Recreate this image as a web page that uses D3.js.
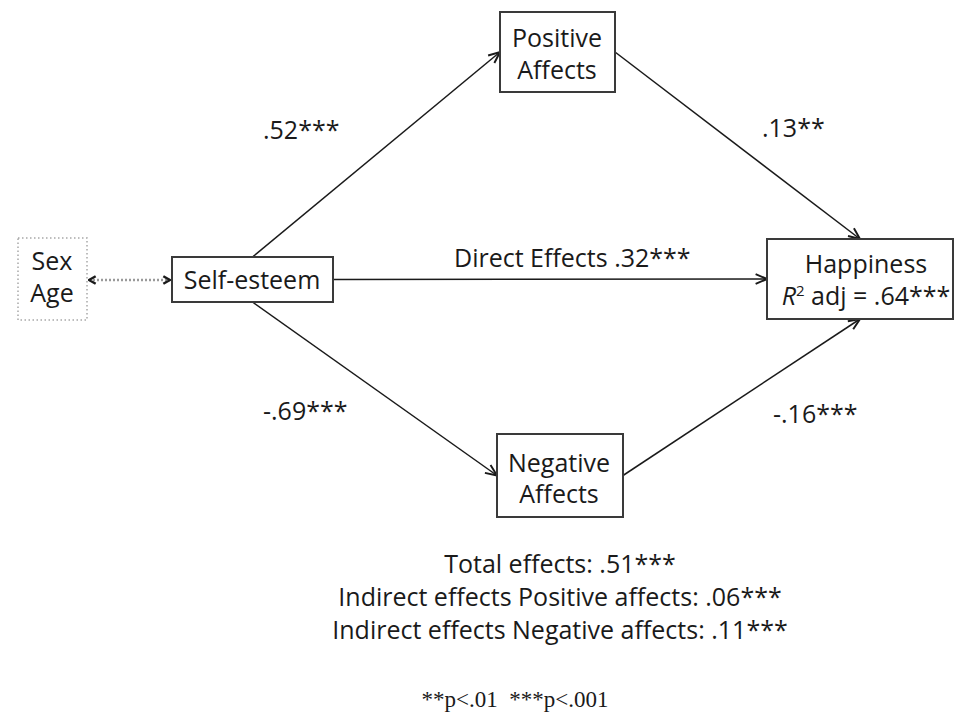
<!DOCTYPE html>
<html>
<head>
<meta charset="utf-8">
<script src="https://d3js.org/d3.v7.min.js"></script>
<style>
  body { margin: 0; background: #fff; }
  svg text { font-family: "Open Sans", sans-serif; fill: #1a1a1a; }
</style>
</head>
<body>
<div id="chartContainer"></div>
<script>
// ---- chart values ----
var nodeIds    = ["covar", "self", "pos", "neg", "hap"];
var nodeLines  = [["Sex", "Age"], ["Self-esteem"], ["Positive", "Affects"], ["Negative", "Affects"], ["Happiness", "R2"]];
var pathFrom   = ["self", "pos", "self", "self", "neg"];
var pathTo     = ["pos", "hap", "hap", "neg", "hap"];
var pathCoefs  = [".52", ".13", ".32", "-.69", "-.16"];
var pathStars  = ["***", "**", "***", "***", "***"];
var pathPrefix = ["", "", "Direct Effects ", "", ""];
var r2Value    = ".64";
var r2Stars    = "***";
var effectNames  = ["Total effects:", "Indirect effects Positive affects:", "Indirect effects Negative affects:"];
var effectValues = [".51", ".06", ".11"];
var effectStars  = ["***", "***", "***"];
var footnote = "**p<.01\u00a0\u00a0***p<.001";

// ---- layout (page pixels) ----
var W = 958, H = 717;
var FS = "25px";
var boxes = {
  covar: {x: 18,  y: 238, w: 69,  h: 82, base: [270, 302], cx: 52},
  self:  {x: 172, y: 257, w: 161, h: 45, base: [289], cx: 252},
  pos:   {x: 500, y: 12,  w: 115, h: 80, base: [47, 79], cx: 557},
  neg:   {x: 497, y: 434, w: 126, h: 83, base: [472, 503], cx: 559},
  hap:   {x: 767, y: 239, w: 186, h: 80, base: [273, 305], cx: 866}
};
// anchor side used at each end of each path
var fromSide = ["top", "right", "right", "bottom", "right"];
var toSide   = ["left", "top", "left", "left", "bottom"];
var labelPos = [[263, 139], [762, 137], [454, 267], [263, 420], [773, 423]];

function anchor(b, side) {
  if (side === "top") return [b.x + b.w / 2, b.y];
  if (side === "bottom") return [b.x + b.w / 2, b.y + b.h];
  if (side === "left") return [b.x, b.y + b.h / 2];
  return [b.x + b.w, b.y + b.h / 2];
}

var svg = d3.select("#chartContainer").append("svg")
  .attr("width", W).attr("height", H);

var defs = svg.append("defs");
defs.append("marker")
  .attr("id", "arrow")
  .attr("viewBox", "0 0 12 12")
  .attr("refX", 11.5).attr("refY", 6)
  .attr("markerWidth", 13).attr("markerHeight", 13)
  .attr("markerUnits", "userSpaceOnUse")
  .attr("orient", "auto-start-reverse")
  .append("path")
  .attr("d", "M1,1.5 L11.5,6 L1,10.5")
  .attr("fill", "none").attr("stroke", "#1a1a1a").attr("stroke-width", 1.8);
defs.append("marker")
  .attr("id", "chev")
  .attr("viewBox", "0 0 12 12")
  .attr("refX", 11).attr("refY", 6)
  .attr("markerWidth", 10).attr("markerHeight", 10)
  .attr("markerUnits", "userSpaceOnUse")
  .attr("orient", "auto-start-reverse")
  .append("path")
  .attr("d", "M3,1.5 L11,6 L3,10.5")
  .attr("fill", "none").attr("stroke", "#1a1a1a").attr("stroke-width", 3);

// paths
var paths = pathFrom.map(function (f, i) {
  return {a: anchor(boxes[f], fromSide[i]), b: anchor(boxes[pathTo[i]], toSide[i]), i: i};
});
svg.selectAll("line.path").data(paths).enter().append("line")
  .attr("class", "path")
  .attr("x1", function (d) { return d.a[0]; })
  .attr("y1", function (d) { return d.a[1]; })
  .attr("x2", function (d) { return d.b[0]; })
  .attr("y2", function (d) { return d.b[1]; })
  .attr("stroke", "#1a1a1a").attr("stroke-width", 1.5)
  .attr("marker-end", "url(#arrow)");

// covariate link (dotted, two-headed)
var ca = anchor(boxes.covar, "right"), cb = anchor(boxes.self, "left");
svg.append("line")
  .attr("x1", ca[0] + 2).attr("y1", 280)
  .attr("x2", cb[0] - 2).attr("y2", 280)
  .attr("stroke", "#9a9a9a").attr("stroke-width", 2.5)
  .attr("stroke-dasharray", "2,2")
  .attr("marker-start", "url(#chev)")
  .attr("marker-end", "url(#chev)");

// boxes
nodeIds.forEach(function (id, k) {
  var b = boxes[id];
  var dotted = id === "covar";
  svg.append("rect")
    .attr("x", b.x).attr("y", b.y).attr("width", b.w).attr("height", b.h)
    .attr("fill", "#fff")
    .attr("stroke", dotted ? "#a8a8a8" : "#3a3a3a")
    .attr("stroke-width", dotted ? 1.5 : 2)
    .attr("stroke-dasharray", dotted ? "1.5,2.5" : null);
  nodeLines[k].forEach(function (ln, j) {
    var t = svg.append("text")
      .attr("x", b.cx).attr("y", b.base[j])
      .attr("text-anchor", "middle")
      .attr("font-size", FS);
    if (ln === "R2") {
      t.append("tspan").attr("font-style", "italic").text("R");
      t.append("tspan").attr("font-size", "15px").attr("dy", -9).text("2");
      t.append("tspan").attr("dy", 9).text(" adj = " + r2Value);
      t.append("tspan").text(r2Stars);
    } else {
      t.text(ln);
    }
  });
});

// path coefficients
svg.selectAll("text.coef").data(pathCoefs).enter().append("text")
  .attr("class", "coef")
  .attr("x", function (d, i) { return labelPos[i][0]; })
  .attr("y", function (d, i) { return labelPos[i][1]; })
  .attr("font-size", FS)
  .text(function (d, i) { return pathPrefix[i] + d + pathStars[i]; });

// effects summary
svg.selectAll("text.eff").data(effectNames).enter().append("text")
  .attr("class", "eff")
  .attr("x", 560)
  .attr("y", function (d, i) { return 573 + i * 33; })
  .attr("text-anchor", "middle")
  .attr("font-size", FS)
  .text(function (d, i) { return d + " " + effectValues[i] + effectStars[i]; });

svg.append("text")
  .attr("x", 515).attr("y", 707)
  .attr("text-anchor", "middle")
  .style("font-family", "'Liberation Serif', serif")
  .attr("font-size", "23px")
  .text(footnote);
</script>
</body>
</html>
